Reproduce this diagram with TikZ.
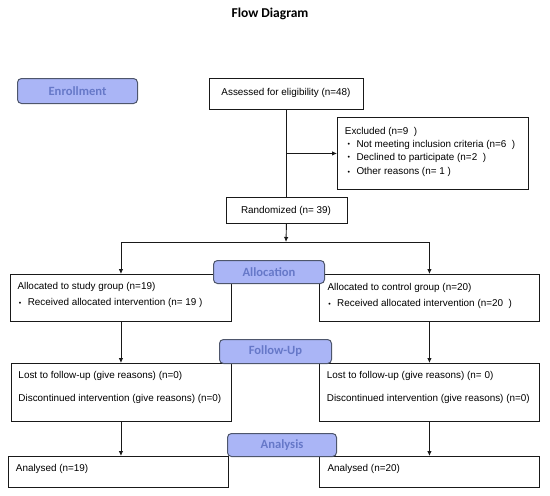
\documentclass[tikz,border=0pt]{standalone}
\usepackage{fontspec}
\setmainfont{Liberation Sans}
\newfontfamily\calibri{Carlito}
\usetikzlibrary{arrows.meta}
\definecolor{lblfill}{RGB}{170,181,246}
\definecolor{lbltext}{RGB}{102,120,200}
\definecolor{lbldraw}{RGB}{78,86,108}
\definecolor{linec}{RGB}{25,25,25}
\newcommand{\bul}{\makebox[8.8pt][l]{\raisebox{0.3pt}{\fontsize{7}{7}\selectfont •}}}
\begin{document}
\begin{tikzpicture}[x=1pt,y=-1pt,
  box/.style={draw=linec, line width=0.9pt, fill=white, inner sep=0pt, anchor=north west},
  lbl/.style={draw=lbldraw, line width=1pt, fill=lblfill, rounded corners=4pt, inner sep=0pt,
    anchor=north west, text=lbltext, font=\calibri\bfseries\fontsize{12.6}{14}\selectfont},
  txt/.style={anchor=base west, inner sep=0pt, font=\fontsize{9.9}{11}\selectfont},
  ctxt/.style={anchor=base, inner sep=0pt, font=\fontsize{9.9}{11}\selectfont},
  ln/.style={draw=linec, line width=0.9pt},
  arr/.style={draw=linec, line width=0.9pt, -{Latex[length=5pt,width=4.5pt]}}]
\useasboundingbox (0,0) rectangle (550,496);

% title
\node[anchor=base, inner sep=0pt, font=\calibri\bfseries\fontsize{13.5}{15}\selectfont] (title) at (270,17) {Flow Diagram};

% boxes
\node[box, minimum width=154pt, minimum height=31pt] (assess) at (209,78) {};
\node[box, minimum width=191pt, minimum height=72pt] (excl) at (337,117) {};
\node[box, minimum width=121pt, minimum height=26pt] (rand) at (225.5,197) {};
\node[box, minimum width=221pt, minimum height=47pt] (allocS) at (10,274) {};
\node[box, minimum width=220pt, minimum height=47pt] (allocC) at (319,274) {};
\node[box, minimum width=220pt, minimum height=58pt] (fuS) at (10.5,363) {};
\node[box, minimum width=220pt, minimum height=58pt] (fuC) at (319,363) {};
\node[box, minimum width=220pt, minimum height=31pt] (anS) at (8,456) {};
\node[box, minimum width=220pt, minimum height=31pt] (anC) at (319,456) {};

% texts
\node[ctxt] (tassess) at (286,95.5) {Assessed for eligibility (n=48)};
\node[txt] (texcl1) at (344.7,134.3) {Excluded (n=9\ \ )};
\node[txt] (texcl2) at (347.5,147) {\bul Not meeting inclusion criteria (n=6\ \ )};
\node[txt] (texcl3) at (347.5,160) {\bul Declined to participate (n=2\ \ )};
\node[txt] (texcl4) at (347.5,174.3) {\bul Other reasons (n= 1 )};
\node[ctxt] (trand) at (286,213) {Randomized (n= 39)};
\node[txt] (tallocS1) at (17.3,289.5) {Allocated to study group (n=19)};
\node[txt] (tallocS2) at (18.8,305.8) {\bul Received allocated intervention (n= 19 )};
\node[txt] (tallocC1) at (327.3,290) {Allocated to control group (n=20)};
\node[txt] (tallocC2) at (328.2,306.5) {\bul Received allocated intervention (n=20\ \ )};
\node[txt] (tfuS1) at (18.3,378.3) {Lost to follow-up (give reasons) (n=0)};
\node[txt] (tfuS2) at (18.3,401) {Discontinued intervention (give reasons) (n=0)};
\node[txt] (tfuC1) at (326.7,378.3) {Lost to follow-up (give reasons) (n= 0)};
\node[txt] (tfuC2) at (326.7,401) {Discontinued intervention (give reasons) (n=0)};
\node[txt] (tanS) at (15.7,471.7) {Analysed (n=19)};
\node[txt] (tanC) at (327.3,471.7) {Analysed (n=20)};

% connectors
\coordinate (split) at (286,242);
\draw[ln] (assess.south) -- (rand.north);
\draw[arr] (assess.south |- excl.west) -- (excl.west);
\draw[arr] (rand.south) -- (split);
\draw[ln] (allocS.north |- split) -- (allocC.north |- split);
\draw[arr] (allocS.north |- split) -- (allocS.north);
\draw[arr] (allocC.north |- split) -- (allocC.north);
\draw[arr] (allocS.south) -- (allocS.south |- fuS.north);
\draw[arr] (allocC.south) -- (fuC.north);
\draw[arr] (fuS.south) -- (fuS.south |- anS.north);
\draw[arr] (fuC.south) -- (anC.north);

% phase labels
\node[lbl, minimum width=120pt, minimum height=25pt] (enroll) at (17,78) {Enrollment};
\node[lbl, minimum width=111pt, minimum height=23pt] (alloc) at (213,260) {Allocation};
\node[lbl, minimum width=112pt, minimum height=24pt] (follow) at (219,339) {Follow-Up};
\node[lbl, minimum width=109pt, minimum height=23pt] (analysis) at (227,433) {Analysis};
\end{tikzpicture}
\end{document}
